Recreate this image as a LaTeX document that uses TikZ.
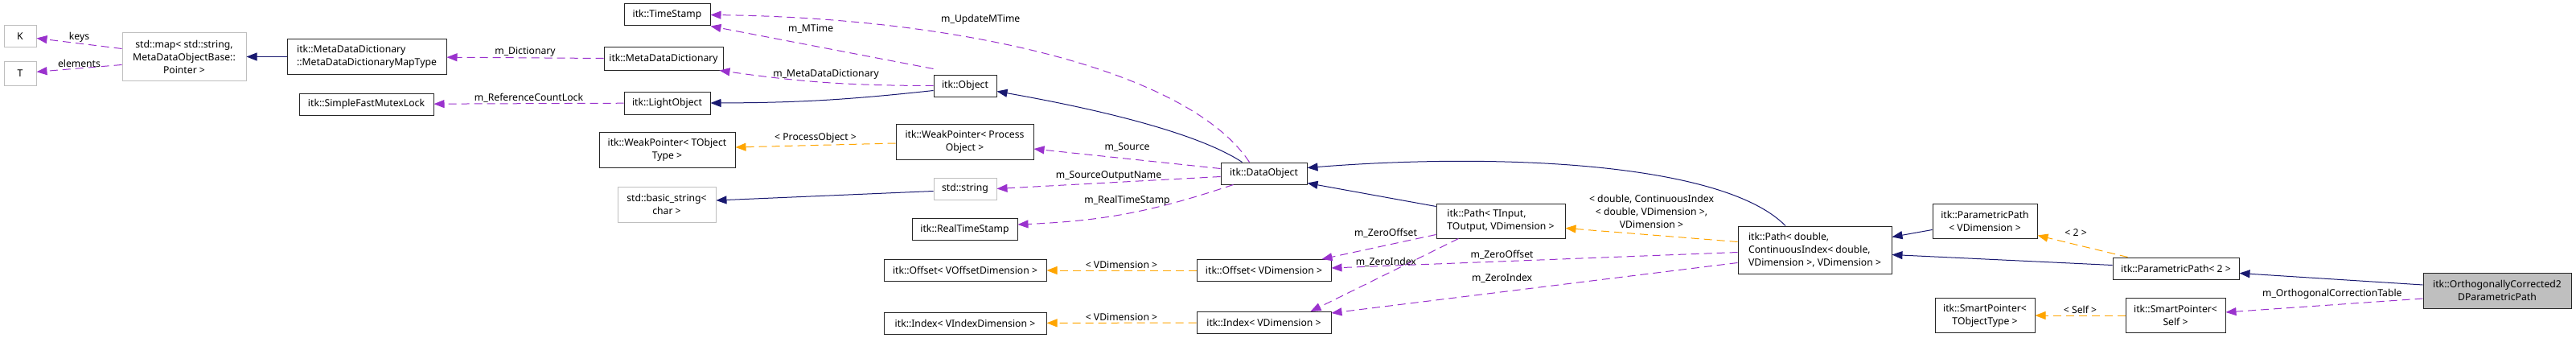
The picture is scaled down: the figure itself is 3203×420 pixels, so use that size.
\documentclass[tikz,border=0pt]{standalone}
\usepackage{fontspec}
\setmainfont{Noto Sans}
\usepackage{tikz}
\usetikzlibrary{positioning,arrows.meta,calc}
\definecolor{dxNavy}{HTML}{191970}
\definecolor{dxPurple}{HTML}{9A32CD}
\definecolor{dxOrange}{HTML}{FFA500}
\definecolor{dxGrey}{HTML}{BFBFBF}

\begin{document}
\begin{tikzpicture}[x=1pt, y=-1pt, font=\fontsize{12.2}{16}\selectfont,
  cls/.style={draw=black!85, fill=white, line width=1pt, inner sep=1pt, align=center},
  ext/.style={cls, draw=dxGrey},
  inherit/.style={draw=dxNavy, line width=1pt, -{Triangle[length=13pt,width=10pt]}},
  member/.style={draw=dxPurple, line width=1pt, dash pattern=on 10pt off 6pt, -{Triangle[length=13pt,width=10pt]}},
  tmpl/.style={draw=dxOrange, line width=1pt, dash pattern=on 10pt off 6pt, -{Triangle[length=13pt,width=10pt]}},
  elabel/.style={inner sep=1pt, align=center}]
\useasboundingbox (0,0) rectangle (3203,420);

% classes, left to right
\node[ext, minimum width=40pt, minimum height=27pt] (k) at (25,45) {K};
\node[ext, minimum width=40pt, minimum height=30pt] (t) at (25,91) {T};
\node[ext, minimum width=154pt, minimum height=59pt] (map) at (229,70.5) {std::map< std::string,\\ MetaDataObjectBase::\\ Pointer >};
\node[cls, minimum width=198pt, minimum height=43pt, align=left] (maptype) at (456,70.5) {itk::MetaDataDictionary\\ ::MetaDataDictionaryMapType};
\node[cls, minimum width=167pt, minimum height=27pt] (lock) at (455.5,129.5) {itk::SimpleFastMutexLock};
\node[cls, minimum width=107pt, minimum height=27pt] (ts) at (829.5,18.5) {itk::TimeStamp};
\node[cls, minimum width=148pt, minimum height=28pt] (mdd) at (825,73) {itk::MetaDataDictionary};
\node[cls, minimum width=107pt, minimum height=28pt] (lo) at (829.5,128) {itk::LightObject};
\node[cls, minimum width=169pt, minimum height=44pt] (wpt) at (829.5,186) {itk::WeakPointer< TObject\\ Type >};
\node[ext, minimum width=122pt, minimum height=44pt] (bstr) at (829,254) {std::basic\_string<\\ char >};
\node[cls, minimum width=78pt, minimum height=27pt] (obj) at (1200,106.5) {itk::Object};
\node[cls, minimum width=171pt, minimum height=44pt] (wpp) at (1199.5,176) {itk::WeakPointer< Process\\ Object >};
\node[ext, minimum width=78pt, minimum height=27pt] (str) at (1200,234.5) {std::string};
\node[cls, minimum width=131pt, minimum height=27pt] (rts) at (1199.5,285) {itk::RealTimeStamp};
\node[cls, minimum width=202pt, minimum height=27pt] (offv) at (1200,336) {itk::Offset< VOffsetDimension >};
\node[cls, minimum width=202pt, minimum height=27pt] (idxv) at (1200,401.5) {itk::Index< VIndexDimension >};
\node[cls, minimum width=107pt, minimum height=27pt] (dobj) at (1571.5,215.5) {itk::DataObject};
\node[cls, minimum width=167pt, minimum height=27pt] (off) at (1571.5,336) {itk::Offset< VDimension >};
\node[cls, minimum width=167pt, minimum height=27pt] (idx) at (1571.5,401) {itk::Index< VDimension >};
\node[cls, minimum width=160pt, minimum height=43pt, align=left] (pathg) at (1866,274.5) {itk::Path< TInput,\\ TOutput, VDimension >};
\node[cls, minimum width=191pt, minimum height=59pt, align=left] (path) at (2256.5,310.5) {itk::Path< double,\\ ContinuousIndex< double,\\ VDimension >, VDimension >};
\node[cls, minimum width=130pt, minimum height=43pt] (ppg) at (2468,274.5) {itk::ParametricPath\\ < VDimension >};
\node[cls, minimum width=124pt, minimum height=43pt] (spg) at (2468,392) {itk::SmartPointer<\\ TObjectType >};
\node[cls, minimum width=157pt, minimum height=27pt] (pp2) at (2705.5,333.5) {itk::ParametricPath< 2 >};
\node[cls, minimum width=124pt, minimum height=43pt] (sps) at (2705,392) {itk::SmartPointer<\\ Self >};
\node[cls, fill=dxGrey, minimum width=184pt, minimum height=44pt] (ortho) at (3105,361) {itk::OrthogonallyCorrected2\\ DParametricPath};

% inheritance
\draw[inherit] (maptype) -- (map);
\draw[inherit] ($(obj.west)+(0,6)$) to[bend left=3] (lo.east);
\draw[inherit] ($(dobj.north)+(-27,0)$) .. controls +(-64,-42) and +(91,16) .. ($(obj.east)+(0,7)$);
\draw[inherit] ($(str.west)+(0,3)$) -- ($(bstr.east)+(0,-5)$);
\draw[inherit] ($(pathg.north west)+(0,4)$) -- ($(dobj.east)+(0,12)$);
\draw[inherit] ($(path.north)+(-36.5,0)$) .. controls +(-80,-81) and +(225,-18) .. ($(dobj.east)+(0,-7)$);
\draw[inherit] ($(ppg.west)+(0,11)$) -- ($(path.east)+(0,-16)$);
\draw[inherit] ($(pp2.west)+(0,-4)$) -- ($(path.east)+(0,6)$);
\draw[inherit] ($(ortho.west)+(0,-7)$) -- ($(pp2.east)+(0,6)$);

% members
\draw[member] ($(map.west)+(0,-10)$) -- node[elabel, above] {keys} (k);
\draw[member] ($(map.west)+(0,10)$) -- node[elabel, above] {elements} (t);
\draw[member] (mdd) -- node[elabel, above] {m\_Dictionary} (maptype);
\draw[member] (lo) -- node[elabel, above] {m\_ReferenceCountLock} (lock);
\draw[member] ($(obj.north west)+(0,-7)$) -- node[elabel, pos=0.55, above=13pt] {m\_MTime} (ts.south east);
\draw[member] (obj.west) to[bend left=4] node[elabel, above=3pt] {m\_MetaDataDictionary} ($(mdd.south east)+(-5,0)$);
\draw[member] ($(dobj.north)+(-18,0)$) .. controls +(-74,-112) and +(317,4) .. node[elabel, pos=0.62, above=17pt] {m\_UpdateMTime} (ts.east);
\draw[member] ($(dobj.west)+(0,-6)$) -- node[elabel, above=7pt] {m\_Source} ($(wpp.east)+(0,9)$);
\draw[member] ($(dobj.west)+(0,4)$) -- node[elabel, above=1pt] {m\_SourceOutputName} (str.east);
\draw[member] ($(dobj.south west)+(16,0)$) to[bend left=8] node[elabel, above=8pt] {m\_RealTimeStamp} ($(rts.east)+(0,-6)$);
\draw[member] ($(pathg.west)+(0,17)$) -- node[elabel, pos=0.44, above=8pt] {m\_ZeroOffset} ($(off.north east)+(-12,0)$);
\draw[member] ($(pathg.south west)+(28,0)$) -- node[elabel, pos=0.49, above=8pt] {m\_ZeroIndex} ($(idx.north east)+(-26,0)$);
\draw[member] ($(path.west)+(0,3)$) -- node[elabel, pos=0.58, above=1pt] {m\_ZeroOffset} ($(off.east)+(0,-3)$);
\draw[member] ($(path.west)+(0,16)$) -- node[elabel, pos=0.58, above=10pt] {m\_ZeroIndex} ($(idx.east)+(0,-12)$);
\draw[member] ($(ortho.west)+(0,10)$) -- node[elabel, pos=0.46, above=6pt] {m\_OrthogonalCorrectionTable} ($(sps.east)+(0,-4)$);

% template instances
\draw[tmpl] ($(wpp.west)+(0,2)$) -- node[elabel, above=2pt] {< ProcessObject >} ($(wpt.east)+(0,-3)$);
\draw[tmpl] (off) -- node[elabel, above=1pt] {< VDimension >} (offv);
\draw[tmpl] (idx) -- node[elabel, above=1pt] {< VDimension >} (idxv);
\draw[tmpl] ($(path.west)+(0,-10)$) -- node[elabel, above=7pt] {< double, ContinuousIndex\\< double, VDimension >,\\VDimension >} ($(pathg.east)+(0,9)$);
\draw[tmpl] ($(pp2.north west)+(19,0)$) -- node[elabel, pos=0.575, above=9pt] {< 2 >} ($(ppg.south east)+(0,-4)$);
\draw[tmpl] (sps) -- node[elabel, above=1pt] {< Self >} (spg);
\end{tikzpicture}
\end{document}
